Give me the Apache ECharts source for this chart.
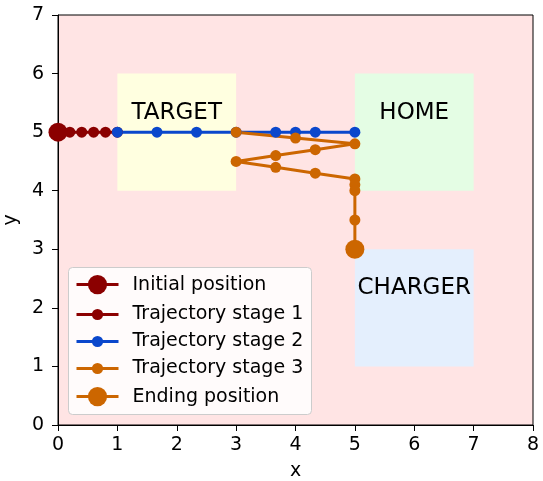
<!DOCTYPE html>
<html><head><meta charset="utf-8">
<script src="https://cdn.jsdelivr.net/npm/echarts@6/dist/echarts.min.js"></script>
<style>html,body{margin:0;padding:0;background:#fff}#c{width:543px;height:481px}</style>
</head><body><div id="c"></div>
<script>
const regionNames = ['TARGET', 'HOME', 'CHARGER'];
const regionX0 = [1, 5, 5];
const regionX1 = [3, 7, 7];
const regionY0 = [4, 4, 1];
const regionY1 = [6, 6, 3];
const regionLabelY = [5.33, 5.33, 2.33];
const regionColors = ['#ffffe0', '#e4fde4', '#e4effd'];

const initialPos = [[0, 5]];
const stage1 = [[0, 5], [0.2, 5], [0.4, 5], [0.6, 5], [0.8, 5], [1, 5]];
const stage2 = [[1, 5], [1.667, 5], [2.333, 5], [3, 5], [3.667, 5], [4, 5], [4.333, 5], [5, 5]];
const stage3 = [[3, 5], [4, 4.9], [5, 4.8], [4.333, 4.7], [3.667, 4.6], [3, 4.5], [3.667, 4.4],
                [4.333, 4.3], [5, 4.2], [5, 4.1], [5, 4.0], [5, 3.5], [5, 3.0]];
const endingPos = [[5, 3]];

const xTicks = [0, 1, 2, 3, 4, 5, 6, 7, 8];
const yTicks = [0, 1, 2, 3, 4, 5, 6, 7];

const RED = '#8b0000', BLUE = '#0a47cc', ORANGE = '#cc6600';
const FONT = 'DejaVu Sans';
const FS = 19;

const regionData = regionNames.map((n, i) => [regionX0[i], regionY0[i], regionX1[i], regionY1[i], regionLabelY[i], i]);

const chart = echarts.init(document.getElementById('c'), null, {renderer: 'canvas'});
const lineSeries = (name, data, color, size, z) => ({
  name, type: 'line', data, z,
  symbol: 'circle', symbolSize: size,
  lineStyle: {color, width: 3}, itemStyle: {color},
  animation: false, emphasis: {disabled: true}
});
const legendBase = {
  orient: 'vertical', left: 75, itemWidth: 42, padding: 0, itemGap: 8,
  lineStyle: {width: 3},
  textStyle: {fontFamily: FONT, fontSize: FS, color: '#000', padding: [0, 0, 0, 9]},
  selectedMode: false
};
chart.setOption({
  animation: false,
  grid: {left: 58, right: 10, top: 15, bottom: 56, show: true, backgroundColor: '#ffe4e4',
         borderColor: '#000', borderWidth: 1, containLabel: false, outerBoundsMode: 'none'},
  xAxis: {
    type: 'value', min: 0, max: 8, interval: 1, name: 'x', nameLocation: 'middle', nameGap: 37,
    nameTextStyle: {fontFamily: FONT, fontSize: FS, color: '#000'},
    axisLine: {show: true, lineStyle: {color: '#000', width: 1}},
    axisTick: {show: true, length: 6, lineStyle: {color: '#000'}},
    axisLabel: {fontFamily: FONT, fontSize: FS, color: '#000', margin: 11,
                formatter: v => xTicks.includes(v) ? String(v) : ''},
    splitLine: {show: false}
  },
  yAxis: {
    type: 'value', min: 0, max: 7, interval: 1, name: 'y', nameLocation: 'middle', nameGap: 28,
    nameTextStyle: {fontFamily: FONT, fontSize: FS, color: '#000'},
    axisLine: {show: true, lineStyle: {color: '#000', width: 1}},
    axisTick: {show: true, length: 6, lineStyle: {color: '#000'}},
    axisLabel: {fontFamily: FONT, fontSize: FS, color: '#000', margin: 14,
                formatter: v => yTicks.includes(v) ? String(v) : ''},
    splitLine: {show: false}
  },
  legend: [
    Object.assign({}, legendBase, {top: 275, itemHeight: 24, data: ['Initial position']}),
    Object.assign({}, legendBase, {top: 305, itemHeight: 14,
      data: ['Trajectory stage 1', 'Trajectory stage 2', 'Trajectory stage 3']}),
    Object.assign({}, legendBase, {top: 387, itemHeight: 24, data: ['Ending position']})
  ],
  graphic: [{
    type: 'rect', left: 68, top: 267, z: 3,
    shape: {width: 243, height: 147, r: 4},
    style: {fill: 'rgba(255,255,255,0.85)', stroke: '#cccccc', lineWidth: 1}
  }],
  series: [
    {
      type: 'custom', z: 1, silent: true,
      data: regionData,
      renderItem: (params, api) => {
        const p0 = api.coord([api.value(0), api.value(3)]);
        const p1 = api.coord([api.value(2), api.value(1)]);
        const i = api.value(5);
        const c = api.coord([(api.value(0) + api.value(2)) / 2, api.value(4)]);
        return {type: 'group', children: [
          {type: 'rect', shape: {x: p0[0], y: p0[1], width: p1[0] - p0[0], height: p1[1] - p0[1]},
           style: {fill: regionColors[i]}},
          {type: 'text', x: c[0], y: c[1],
           style: {text: regionNames[i], fontFamily: FONT, fontSize: 23, fill: '#000',
                   align: 'center', verticalAlign: 'middle'}}
        ]};
      }
    },
    lineSeries('Initial position', initialPos, RED, 19, 5),
    lineSeries('Trajectory stage 1', stage1, RED, 11, 4),
    lineSeries('Trajectory stage 2', stage2, BLUE, 11, 4),
    lineSeries('Trajectory stage 3', stage3, ORANGE, 11, 4),
    lineSeries('Ending position', endingPos, ORANGE, 19, 5)
  ]
});
</script></body></html>
